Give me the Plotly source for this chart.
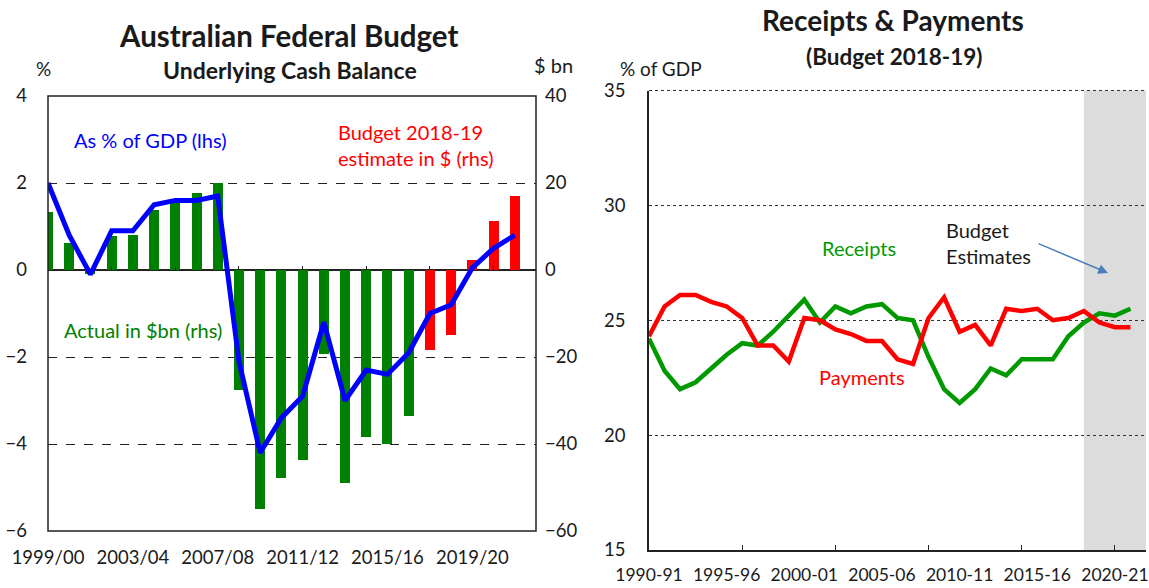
import plotly.graph_objects as go

# ---------------- Left chart data ----------------
fy_left = ["1999/00", "2000/01", "2001/02", "2002/03", "2003/04", "2004/05", "2005/06",
           "2006/07", "2007/08", "2008/09", "2009/10", "2010/11", "2011/12", "2012/13",
           "2013/14", "2014/15", "2015/16", "2016/17", "2017/18", "2018/19", "2019/20",
           "2020/21", "2021/22"]
ucb_pct_gdp = [2.0, 0.8, -0.1, 0.9, 0.9, 1.5, 1.6, 1.6, 1.7, -2.1, -4.2, -3.4, -2.9, -1.2,
               -3.0, -2.3, -2.4, -1.9, -1.0, -0.8, 0.05, 0.5, 0.8]
ucb_bn = [13.3, 6.1, -1.0, 7.9, 8.1, 13.8, 15.3, 17.6, 20.0, -27.6, -55.0, -47.9, -43.6, -19.2,
          -49.0, -38.4, -40.0, -33.6, -18.4, -14.9, 2.4, 11.2, 16.9]
is_estimate = [False] * 18 + [True] * 5
left_tick_labels = ["1999/00", "2003/04", "2007/08", "2011/12", "2015/16", "2019/20"]

# ---------------- Right chart data ----------------
fy_right = ["1990-91", "1991-92", "1992-93", "1993-94", "1994-95", "1995-96", "1996-97",
            "1997-98", "1998-99", "1999-00", "2000-01", "2001-02", "2002-03", "2003-04",
            "2004-05", "2005-06", "2006-07", "2007-08", "2008-09", "2009-10", "2010-11",
            "2011-12", "2012-13", "2013-14", "2014-15", "2015-16", "2016-17", "2017-18",
            "2018-19", "2019-20", "2020-21", "2021-22"]
receipts = [24.2, 22.8, 22.0, 22.3, 22.9, 23.5, 24.0, 23.9, 24.5, 25.2, 25.9, 24.9, 25.6, 25.3,
            25.6, 25.7, 25.1, 25.0, 23.4, 22.0, 21.4, 22.0, 22.9, 22.6, 23.3, 23.3, 23.3, 24.3,
            24.9, 25.3, 25.2, 25.5]
payments = [24.3, 25.6, 26.1, 26.1, 25.8, 25.6, 25.1, 23.9, 23.9, 23.2, 25.1, 25.0, 24.6, 24.4,
            24.1, 24.1, 23.3, 23.1, 25.1, 26.0, 24.5, 24.8, 23.9, 25.5, 25.4, 25.5, 25.0, 25.1,
            25.4, 24.9, 24.7, 24.7]
right_tick_labels = ["1990-91", "1995-96", "2000-01", "2005-06", "2010-11", "2015-16", "2020-21"]
budget_start = "2018-19"

# ---------------- Layout constants ----------------
W, H = 1149, 588
FONT = "Lato, 'Open Sans', sans-serif"
TXT = "#1a1a1a"

def px(x):
    return x / W

def py(y):
    return 1 - y / H

L_DOM_X = [px(48), px(536)]
L_DOM_Y = [py(531), py(96)]
R_DOM_X = [px(649), px(1146)]
R_DOM_Y = [py(550), py(90.5)]

xl = list(range(len(fy_left)))
xr = list(range(len(fy_right)))

fig = go.Figure()

# Bars ($bn, rhs) on primary y (drawn below)
fig.add_trace(go.Bar(
    x=xl, y=ucb_bn, xaxis="x", yaxis="y",
    marker=dict(color=["#FF0000" if e else "#008000" for e in is_estimate], line=dict(width=0)),
    width=0.47, showlegend=False, hoverinfo="x+y"))
# Line (% GDP, lhs) on overlaying y2 (drawn on top)
fig.add_trace(go.Scatter(
    x=xl, y=ucb_pct_gdp, xaxis="x", yaxis="y2", mode="lines",
    line=dict(color="#0000FF", width=5), showlegend=False))

# Right chart lines
fig.add_trace(go.Scatter(
    x=xr, y=receipts, xaxis="x3", yaxis="y3", mode="lines",
    line=dict(color="#009900", width=4.5), showlegend=False, name="Receipts"))
fig.add_trace(go.Scatter(
    x=xr, y=payments, xaxis="x3", yaxis="y3", mode="lines",
    line=dict(color="#FF0000", width=4.5), showlegend=False, name="Payments"))

# zero line position in paper coords for the tick-mark overlay axis
l_zero_frac = (0 - (-60)) / (40 - (-60))
l_zero_paper = L_DOM_Y[0] + l_zero_frac * (L_DOM_Y[1] - L_DOM_Y[0])

tickfont = dict(family=FONT, size=18.5, color=TXT)
rtickfont = dict(family=FONT, size=17.5, color=TXT)

fig.update_layout(
    width=W, height=H,
    margin=dict(l=0, r=0, t=0, b=0, autoexpand=False),
    paper_bgcolor="white", plot_bgcolor="white",
    font=dict(family=FONT, color=TXT),
    bargap=0,
    xaxis=dict(domain=L_DOM_X, anchor="y", range=[0, len(fy_left)], automargin=False,
               tickvals=[fy_left.index(t) for t in left_tick_labels], ticktext=left_tick_labels,
               ticks="", showgrid=False, zeroline=False, showline=False,
               tickfont=tickfont, ticklabelstandoff=13, ticklabeloverflow="allow"),
    xaxis2=dict(domain=L_DOM_X, overlaying="x", anchor="free", position=l_zero_paper,
                side="top", range=[0, len(fy_left)], tickvals=list(range(3, len(fy_left), 3)),
                ticks="outside", ticklen=4, tickwidth=1, tickcolor="#222", automargin=False,
                showticklabels=False, showgrid=False, zeroline=False, showline=False),
    yaxis=dict(domain=L_DOM_Y, anchor="x", side="right", range=[-60, 40], dtick=20,
               showgrid=True, gridcolor="#222", griddash="dash", gridwidth=1,
               zeroline=True, zerolinecolor="#222", zerolinewidth=1.5, automargin=False,
               showline=False, ticks="", tickfont=tickfont, ticklabelstandoff=8),
    yaxis2=dict(domain=L_DOM_Y, anchor="x", overlaying="y", side="left", range=[-6, 4], dtick=2,
                showgrid=False, zeroline=False, showline=False, ticks="", automargin=False,
                tickfont=tickfont, ticklabelstandoff=20),
    xaxis3=dict(domain=R_DOM_X, anchor="y3", range=[0, len(fy_right)], automargin=False,
                tickvals=[fy_right.index(t) for t in right_tick_labels], ticktext=right_tick_labels,
                ticks="", showgrid=False, zeroline=False,
                showline=True, linecolor="#222", linewidth=1.5,
                tickfont=rtickfont, ticklabelstandoff=8, ticklabeloverflow="allow"),
    xaxis4=dict(domain=R_DOM_X, anchor="y3", overlaying="x3", side="bottom", range=[0, len(fy_right)],
                tickvals=list(range(6, len(fy_right), 6)), ticks="inside", ticklen=5,
                tickcolor="#222", tickwidth=1, showticklabels=False, showgrid=False,
                zeroline=False, showline=False, automargin=False),
    yaxis3=dict(domain=R_DOM_Y, anchor="x3", range=[15, 35], dtick=5, automargin=False,
                showgrid=True, gridcolor="#333", griddash="dot", gridwidth=1,
                zeroline=False, showline=True, linecolor="#222", linewidth=1.5,
                ticks="", tickfont=tickfont, ticklabelstandoff=18),
)

# Dummy traces so overlay tick axes render
fig.add_trace(go.Scatter(x=[None], y=[None], xaxis="x2", yaxis="y", showlegend=False, hoverinfo="skip"))
fig.add_trace(go.Scatter(x=[None], y=[None], xaxis="x4", yaxis="y3", showlegend=False, hoverinfo="skip"))

# Left chart frame
fig.add_shape(type="rect", xref="x domain", yref="y domain", x0=0, x1=1, y0=0, y1=1,
              line=dict(color="#222", width=1.5), fillcolor="rgba(0,0,0,0)", layer="above")

# Budget estimate shading (right chart)
bs = fy_right.index(budget_start)
fig.add_shape(type="rect", xref="x3", yref="y3 domain", x0=bs, x1=len(fy_right), y0=0, y1=1,
              fillcolor="#DCDCDC", line=dict(width=0), layer="below")
# Dotted top edge of the right plot (gridline at the top of the range)
fig.add_shape(type="line", xref="x3 domain", yref="y3 domain", x0=0, x1=1, y0=1, y1=1,
              line=dict(color="#333", width=1, dash="dot"), layer="below")

def ann(text, x, y, size=20, color=TXT, bold=False, xanchor="center"):
    if bold:
        text = "<b>" + text + "</b>"
    fig.add_annotation(text=text, x=px(x), y=py(y), xref="paper", yref="paper",
                       showarrow=False, xanchor=xanchor, yanchor="middle",
                       font=dict(family=FONT, size=size, color=color), align="left")

# Left chart texts
ann("Australian Federal Budget", 288, 35, size=29.5, bold=True)
ann("Underlying Cash Balance", 290, 70, size=23, bold=True)
ann("%", 43, 68, size=19)
ann("$ bn", 553, 65, size=20)
ann("As % of GDP (lhs)", 150, 140, size=20, color="#0000FF")
ann("Budget 2018-19<br>estimate in $ (rhs)", 336, 145, size=20, color="#FF0000", xanchor="left")
ann("Actual in $bn (rhs)", 143, 330, size=20, color="#008000")

# Right chart texts
ann("Receipts & Payments", 893, 20, size=28, bold=True)
ann("(Budget 2018-19)", 894, 56, size=22.5, bold=True)
ann("% of GDP", 661, 68, size=19)
ann("Receipts", 859, 248, size=20, color="#009900")
ann("Payments", 862, 377, size=20, color="#FF0000")
ann("Budget<br>Estimates", 944, 243, size=20, xanchor="left")

# Arrow (offsets in pixels)
fig.add_annotation(x=px(1108), y=py(273), xref="paper", yref="paper",
                   ax=1037 - 1108, ay=243 - 273,
                   showarrow=True, arrowhead=2, arrowsize=1.3, arrowwidth=1.5,
                   arrowcolor="#4A7EBB", text="")

fig.write_html("out.html")
